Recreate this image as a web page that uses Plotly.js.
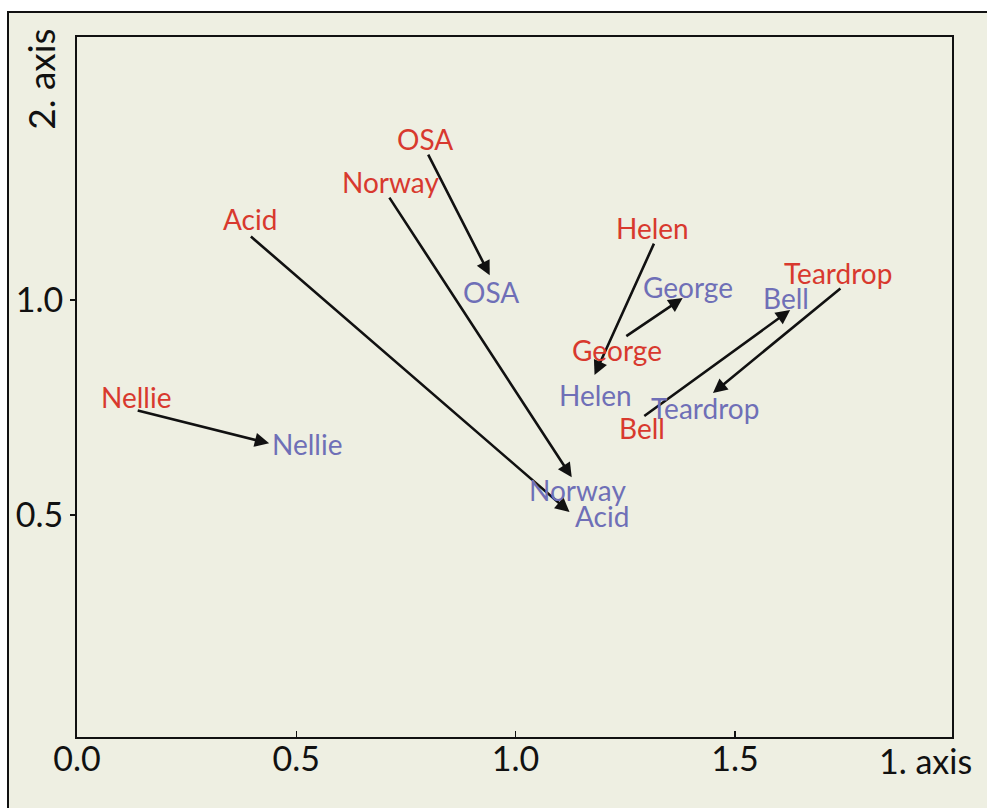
<!DOCTYPE html>
<html>
<head>
<meta charset="utf-8">
<script src="https://cdn.plot.ly/plotly-3.0.1.min.js"></script>
<style>
  html, body { margin: 0; padding: 0; background: #ffffff; width: 987px; height: 808px; overflow: hidden; }
  #bg { position: absolute; left: 7px; top: 11px; right: 0; bottom: 0; background: #eeefe2;
        border-left: 2px solid #111; border-top: 2px solid #111; }
  #chart { position: absolute; left: 0; top: 0; width: 987px; height: 808px; }
</style>
</head>
<body>
<div id="bg"></div>
<div id="chart"></div>
<script>
// ---- data ----
const names  = ['Nellie', 'Acid', 'Norway', 'OSA', 'Helen', 'George', 'Bell', 'Teardrop'];
const startX = [0.135, 0.393, 0.710, 0.799, 1.317, 1.249, 1.290, 1.744];
const startY = [0.744, 1.151, 1.242, 1.342, 1.135, 0.914, 0.728, 1.030];
const endX   = [0.438, 1.123, 1.128, 0.941, 1.180, 1.381, 1.626, 1.450];
const endY   = [0.667, 0.507, 0.588, 1.058, 0.826, 1.005, 0.977, 0.784];
const xTickVals = [0, 0.5, 1.0, 1.5];
const xTickText = ['0.0', '0.5', '1.0', '1.5'];
const yTickVals = [0.5, 1.0];
const yTickText = ['0.5', '1.0'];

// ---- style (label offsets in px: [dx, dy up]) ----
const startShift = [[0,13],[1,16],[2,14],[-2,14],[-2,14],[-8,-13],[-1,-11],[-4,14]];
const endShift   = [[38,-1],[32,-4],[6,-13],[1,-17],[1,-20],[5,11],[-4,12],[-8,-15]];
const RED = '#d8392e', BLUE = '#6f6fb7';
const FONT = 'Lato, "Open Sans", sans-serif';

const annotations = [];
names.forEach((n, i) => {
  annotations.push({
    x: endX[i], y: endY[i], xref: 'x', yref: 'y',
    ax: startX[i], ay: startY[i], axref: 'x', ayref: 'y',
    text: '', showarrow: true, arrowhead: 2, arrowsize: 1.1, arrowwidth: 2.6,
    arrowcolor: '#111', standoff: 0, startstandoff: 0
  });
});
names.forEach((n, i) => {
  annotations.push({
    x: startX[i], y: startY[i], xref: 'x', yref: 'y', text: n, showarrow: false,
    xshift: startShift[i][0], yshift: startShift[i][1],
    font: { family: FONT, size: 28, color: RED }
  });
  annotations.push({
    x: endX[i], y: endY[i], xref: 'x', yref: 'y', text: n, showarrow: false,
    xshift: endShift[i][0], yshift: endShift[i][1],
    font: { family: FONT, size: 28, color: BLUE }
  });
});
annotations.push({
  xref: 'paper', yref: 'paper', x: -0.03, y: 1, xanchor: 'right', yanchor: 'top',
  text: '2. axis', textangle: -90, showarrow: false, xshift: 14, yshift: 10,
  font: { family: FONT, size: 37, color: '#111' }
});
annotations.push({
  xref: 'paper', yref: 'paper', x: 1, y: 0, xanchor: 'center', yanchor: 'top',
  text: '1. axis', showarrow: false, xshift: -27, yshift: -1,
  font: { family: FONT, size: 34, color: '#111' }
});

const trace = {
  x: startX.concat(endX), y: startY.concat(endY),
  mode: 'markers', marker: { size: 1, opacity: 0 }, hoverinfo: 'skip', showlegend: false
};

const layout = {
  width: 987, height: 808,
  margin: { l: 77, r: 35, t: 37, b: 71 },
  paper_bgcolor: 'rgba(0,0,0,0)', plot_bgcolor: '#eeefe2',
  showlegend: false,
  xaxis: {
    range: [0, 1.995], tickvals: xTickVals, ticktext: xTickText,
    showgrid: false, zeroline: false, showline: true, mirror: true,
    linecolor: '#111', linewidth: 2, ticks: 'inside', ticklen: 6, tickwidth: 1.5, tickcolor: '#111',
    tickfont: { family: FONT, size: 34, color: '#111' }, ticklabelstandoff: -9
  },
  yaxis: {
    range: [-0.016, 1.612], tickvals: yTickVals, ticktext: yTickText,
    showgrid: false, zeroline: false, showline: true, mirror: true,
    linecolor: '#111', linewidth: 2, ticks: 'outside', ticklen: 5, tickwidth: 1.5, tickcolor: '#111',
    tickfont: { family: FONT, size: 34, color: '#111' }
  },
  annotations: annotations
};

Plotly.newPlot('chart', [trace], layout, { staticPlot: true, displayModeBar: false });
</script>
</body>
</html>
